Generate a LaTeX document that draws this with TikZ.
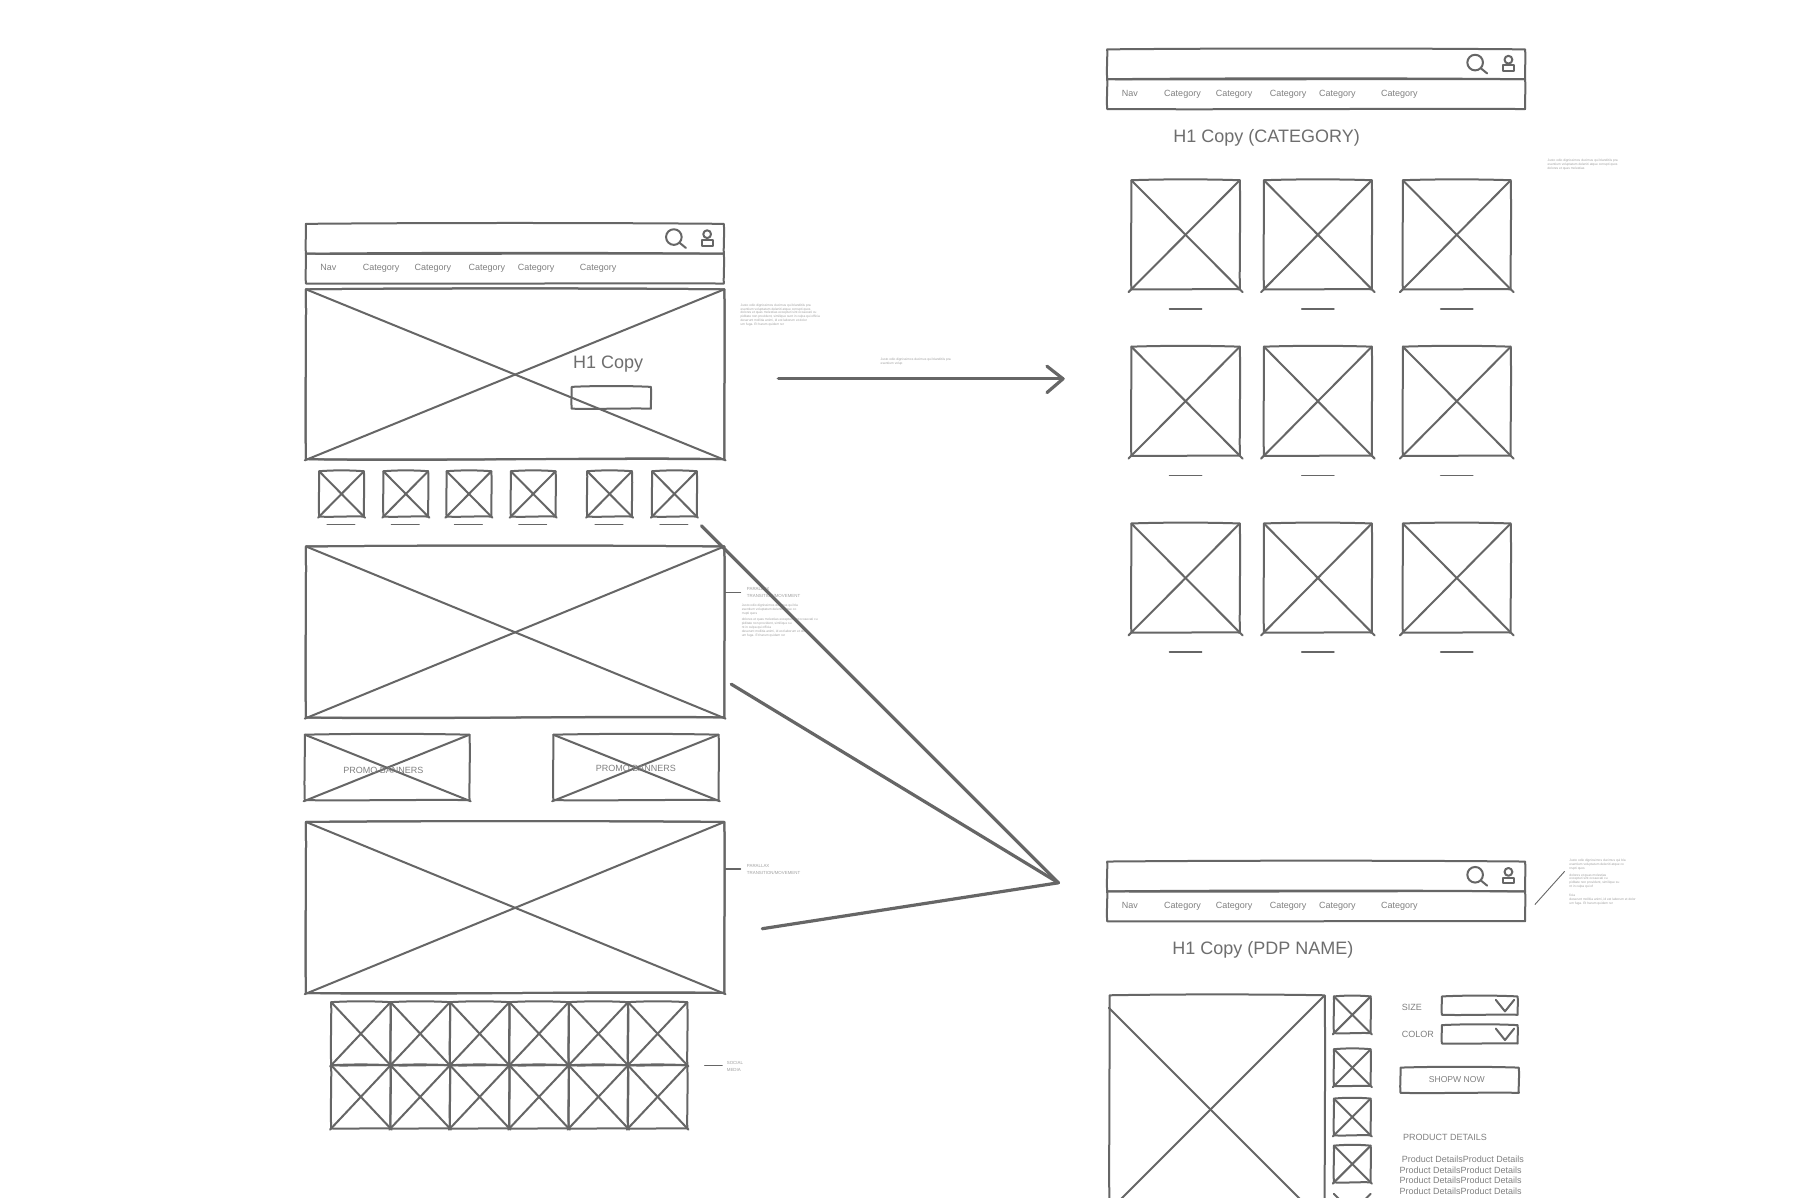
\documentclass[tikz,border=0pt]{standalone}
\usepackage{fontspec}
\setmainfont{Liberation Sans}
\definecolor{ink}{HTML}{666666}
\definecolor{txt}{HTML}{808080}
\definecolor{faint}{HTML}{A0A0A0}
\definecolor{head}{HTML}{6E6E6E}
\tikzset{
  sk/.style={draw=ink,line width=2pt,line cap=round,line join=round},
  skthin/.style={draw=ink,line width=1.5pt,line cap=round},
  conn/.style={draw=ink,line width=3.2pt,line cap=round,line join=round},
  lbl/.style={text=txt,inner sep=0pt,anchor=base west,font=\fontsize{9}{10}\selectfont},
  hone/.style={text=head,inner sep=0pt,anchor=base west,font=\fontsize{18}{20}\selectfont},
  ban/.style={text=txt,inner sep=0pt,anchor=center,font=\fontsize{9}{11}\selectfont},
  note/.style={text=faint,inner sep=0pt,anchor=north west,align=left,font=\fontsize{3.25}{3.9}\selectfont},
  sidecap/.style={text=faint,inner sep=0pt,anchor=north west,align=left,font=\fontsize{4.4}{7}\selectfont}
}
% box: [bottom wave]{x1}{y1}{x2}{y2}
\newcommand\wfbox[5][0.6]{%
  \draw[sk] (#2,#3) .. controls ({#2+.3*(#4-#2)},{#3-1}) and ({#2+.7*(#4-#2)},{#3-1}) .. (#4,#3)
    .. controls ({#4+.7},{#3+.3*(#5-#3)}) and ({#4-.3},{#3+.7*(#5-#3)}) .. (#4,#5)
    .. controls ({#2+.75*(#4-#2)},{#5-#1}) and ({#2+.3*(#4-#2)},{#5+#1}) .. (#2,#5)
    .. controls ({#2-.7},{#3+.7*(#5-#3)}) and ({#2+.3},{#3+.3*(#5-#3)}) .. cycle;}
% cross: [overshoot]{x1}{y1}{x2}{y2}
\newcommand\wfx[5][1]{%
  \draw[sk] ({#2},{#3}) -- ({#4+#1},{#5+#1});
  \draw[sk] ({#4},{#3}) -- ({#2-#1},{#5+#1});}
\newcommand\wfimg[5][1]{\wfbox{#2}{#3}{#4}{#5}\wfx[#1]{#2}{#3}{#4}{#5}}
% header with nav: {prefix}{dx}{dy}
\newcommand\wfnav[3]{%
  \begin{scope}[shift={(#2,#3)}]
    \wfbox{266.5}{195}{630.5}{221}
    \wfbox{266.5}{221}{630.5}{247}
    \draw[sk] (587,206.5) circle (6.8);
    \draw[sk] (592,211.5) -- (597.5,216);
    \draw[sk] (616,204) circle (3.4);
    \draw[sk] (611.5,209) rectangle (621,214);
    \node[lbl] (#1nav) at (279,236) {Nav};
    \node[lbl] (#1cata) at (316,236) {Category};
    \node[lbl] (#1catb) at (361,236) {Category};
    \node[lbl] (#1catc) at (408,236) {Category};
    \node[lbl] (#1catd) at (451,236) {Category};
    \node[lbl] (#1cate) at (505,236) {Category};
  \end{scope}}
\begin{document}
\begin{tikzpicture}[x=1.148pt,y=-1.148pt]
\useasboundingbox (0,0) rectangle (1568,1045.33);
\fill[white] (0,0) rectangle (1568,1045.33);
% ---------- home page
\wfnav{h}{0}{0}
\wfimg{266.5}{252}{631}{400}
\wfbox[2.2]{266.5}{252}{631}{400}
\node[hone] (hcopy) at (499,321) {H1 Copy};
\wfbox{498}{337}{567}{356}
\node[note] (hnote) at (645,264.5) {Justo odio dignissimos ducimus qui blanditiis pra\\esentium voluptatum deleniti atque corrupti quos\\dolores et quas molestias excepturi sint occaecati cu\\piditate non provident, similique sunt in culpa qui officia\\deserunt mollitia animi, id est laborum et dolor\\um fuga. Et harum quidem rer};
\foreach \tx/\n in {278/a,334/b,389/c,445/d,511.5/e,568/f}{
  \wfimg{\tx}{410.5}{\tx+39}{450}
  \draw[skthin] (\tx+7,457) -- (\tx+31,457);
}
\wfimg{266.5}{476}{631}{625}
\wfbox[2.2]{266.5}{476}{631}{625}
\draw[skthin] (632,516) -- (645,516);
\node[sidecap] (pcapa) at (650.5,512) {PARALLAX\\TRANSITION/MOVEMENT};
\node[note] (pnote) at (646,526) {Justo odio dignissimos ducimus qui bla\\esentium voluptatum deleniti atque co\\rrupti quos\\[2.5pt]dolores et quas molestias excepturi sint occaecati cu\\piditate non provident, similique su\\nt in culpa qui officia\\deserunt mollitia animi, id est laborum et dolor\\um fuga. Et harum quidem rer};
\wfimg{265.5}{640}{409}{697}
\node[ban] (promoa) at (334,671) {PROMO BANNERS};
\wfimg{482}{640}{626}{697}
\node[ban] (promob) at (554,669) {PROMO BANNERS};
\wfimg{266.5}{716}{631}{865}
\wfbox[2.2]{266.5}{716}{631}{865}
\draw[skthin] (632,757) -- (645,757);
\node[sidecap] (pcapb) at (650.5,753) {PARALLAX\\TRANSITION/MOVEMENT};
\foreach \gx in {288.5,340.2,392,443.7,495.4,547}{
  \wfimg{\gx}{873}{\gx+51.7}{928}
  \wfimg{\gx}{928}{\gx+51.7}{983}
}
\draw[skthin] (614,928) -- (629,928);
\node[sidecap] (soc) at (633,924) {SOCIAL\\MEDIA};
% ---------- category page
\wfnav{c}{698}{-152}
\node[hone] (ccopy) at (1022,124) {H1 Copy (CATEGORY)};
\node[note] (cnote) at (1348,138.5) {Justo odio dignissimos ducimus qui blanditiis pra\\esentium voluptatum deleniti atque corrupti quos\\dolores et quas molestias};
\foreach \cy/\uy in {157/269,302/414,456/568}{
  \foreach \cx/\cw in {985.5/1080,1101/1195,1222/1316}{
    \wfimg[2.5]{\cx}{\cy}{\cw}{\cy+95}
    \draw[skthin] ({(\cx+\cw)/2-14},\uy) -- ({(\cx+\cw)/2+14},\uy);
  }
}
% ---------- arrow
\coordinate (arrs) at (678,330);
\coordinate (arre) at (926,330);
\coordinate (arru) at (912,319);
\coordinate (arrd) at (912,342);
\draw[conn] (arrs) -- (arre);
\draw[conn] (arru) -- (arre) -- (arrd);
\node[note] (anote) at (767,311.5) {Justo odio dignissimos ducimus qui blanditiis pra\\esentium volup};
% ---------- PDP page
\wfnav{d}{698}{555.5}
\node[hone] (dcopy) at (1021,831.5) {H1 Copy (PDP NAME)};
\draw[draw=ink,line width=.9pt] (1337,788) -- (1363,759);
\node[note] (dnote) at (1367,748.5) {Justo odio dignissimos ducimus qui bla\\esentium voluptatum deleniti atque co\\rrupti quos\\[2.5pt]dolores et quas molestias\\excepturi sint occaecati cu\\piditate non provident, similique su\\nt in culpa qui of\\[5pt]ficia\\deserunt mollitia animi, id est laborum et dolor\\um fuga. Et harum quidem rer};
\begin{scope}
  \clip (950,850) rectangle (1345,1043);
  \wfbox{966.5}{867}{1154}{1070}
  \draw[sk] (966,878) -- (1150,1062);
  \draw[sk] (1153,868) -- (955,1066);
  \foreach \ty in {868,914,957,998}{
    \wfimg{1162}{\ty}{1194}{\ty+32}
  }
  \wfx{1162}{1040}{1194}{1072}
\end{scope}
\node[lbl] (dsize) at (1221,880) {SIZE};
\node[lbl] (dcolor) at (1221,903.5) {COLOR};
\wfbox{1256}{868}{1322}{884}
\draw[sk] (1303,871) -- (1311,881) -- (1319,871);
\wfbox{1256}{893}{1322}{909}
\draw[sk] (1303,896) -- (1311,906) -- (1319,896);
\wfbox{1220}{930}{1323}{952}
\node[ban,font=\fontsize{8.6}{10}\selectfont] (shop) at (1269,940.5) {SHOPW NOW};
\node[lbl] (dpd) at (1222,993.5) {PRODUCT DETAILS};
\node[lbl] (dl1) at (1221,1013) {Product DetailsProduct Details};
\node[lbl] (dl2) at (1219,1022) {Product DetailsProduct Details};
\node[lbl] (dl3) at (1219,1031) {Product DetailsProduct Details};
\node[lbl] (dl4) at (1219,1040.5) {Product DetailsProduct Details};
% ---------- connectors to the PDP
\coordinate (hub) at (922,769);
\coordinate (froma) at (611,458);
\coordinate (fromb) at (637,596);
\coordinate (fromc) at (664,809);
\draw[conn] (froma) -- (hub);
\draw[conn] (fromb) -- (hub);
\draw[conn] (fromc) -- (hub);
\end{tikzpicture}
\end{document}
